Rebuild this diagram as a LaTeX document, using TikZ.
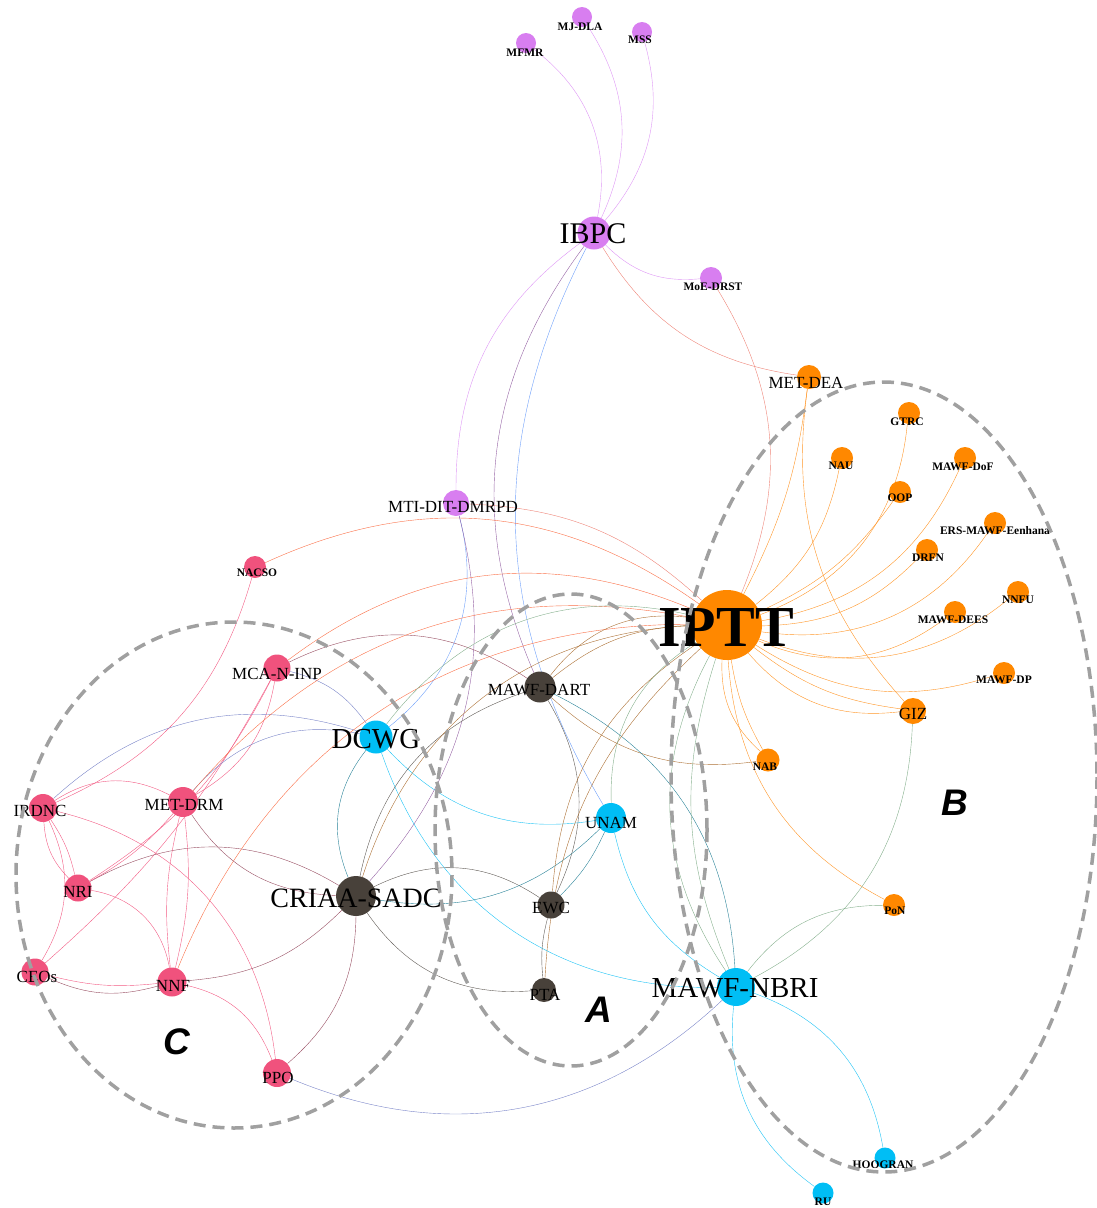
\documentclass[tikz,border=0pt]{standalone}
\usepackage{fontspec}
\setmainfont{Liberation Serif}
\setsansfont{Liberation Sans}
\usetikzlibrary{backgrounds}
\definecolor{cPink}{RGB}{240,82,125}
\definecolor{cOrange}{RGB}{255,136,0}
\definecolor{cViolet}{RGB}{216,126,240}
\definecolor{cCyan}{RGB}{0,190,245}
\definecolor{cDark}{RGB}{72,65,58}
\definecolor{eViolet}{RGB}{222,150,245}
\definecolor{ePink}{RGB}{242,92,132}
\definecolor{eOrange}{RGB}{255,150,40}
\definecolor{eSalmon}{RGB}{238,132,120}
\definecolor{eRedOr}{RGB}{250,112,72}
\definecolor{eMauve}{RGB}{152,78,98}
\definecolor{eBlueV}{RGB}{122,132,200}
\definecolor{eBlue}{RGB}{110,160,250}
\definecolor{ePurple}{RGB}{150,100,165}
\definecolor{eTeal}{RGB}{40,130,152}
\definecolor{eBrown}{RGB}{172,112,52}
\definecolor{eGreen}{RGB}{132,175,140}
\definecolor{eGray}{RGB}{95,90,85}
\definecolor{eCyan}{RGB}{30,195,245}
\definecolor{grpgray}{RGB}{160,160,160}
\newcommand{\fsz}[1]{\fontsize{#1}{#1}\selectfont}
\tikzset{
  nd/.style={circle, inner sep=0pt, minimum size=#1},
  bigl/.style={inner sep=0pt, font=\fsz{29}},
  medl/.style={inner sep=0pt, font=\fsz{17}},
  smll/.style={inner sep=0pt, font=\bfseries\fsz{11.5}},
  ed/.style={line width=1.35pt},
  grp/.style={draw=grpgray, line width=3.5pt, dash pattern=on 12pt off 7pt},
  grpletter/.style={inner sep=0pt, font=\sffamily\bfseries\itshape\fsz{37}}
}
\begin{document}
\begin{tikzpicture}[x=1pt,y=-1pt]
\useasboundingbox (0,0) rectangle (1097,1208);
% ---------- nodes ----------
% violet
\node[nd=20, fill=cViolet] (mfmr) at (526,43) {};
\node[nd=20, fill=cViolet] (mjdla) at (582,17) {};
\node[nd=20, fill=cViolet] (mss) at (642,32) {};
\node[nd=33, fill=cViolet] (ibpc) at (594,233) {};
\node[nd=22, fill=cViolet] (moe) at (711,278) {};
\node[nd=26, fill=cViolet] (mti) at (456,503) {};
% orange
\node[nd=70, fill=cOrange] (iptt) at (727,625) {};
\node[nd=24, fill=cOrange] (metdea) at (809,377) {};
\node[nd=22, fill=cOrange] (gtrc) at (909,413) {};
\node[nd=22, fill=cOrange] (nau) at (842,458) {};
\node[nd=22, fill=cOrange] (dof) at (965,458) {};
\node[nd=22, fill=cOrange] (oop) at (900,492) {};
\node[nd=22, fill=cOrange] (ers) at (995,523) {};
\node[nd=22, fill=cOrange] (drfn) at (927,550) {};
\node[nd=22, fill=cOrange] (nnfu) at (1018,592) {};
\node[nd=22, fill=cOrange] (dees) at (955,612) {};
\node[nd=22, fill=cOrange] (dp) at (1004,673) {};
\node[nd=26, fill=cOrange] (giz) at (913,711) {};
\node[nd=23, fill=cOrange] (nab) at (768,760) {};
\node[nd=22, fill=cOrange] (pon) at (894,905) {};
% cyan
\node[nd=33, fill=cCyan] (dcwg) at (376,737) {};
\node[nd=30, fill=cCyan] (unam) at (611,818) {};
\node[nd=38, fill=cCyan] (nbri) at (736,987) {};
\node[nd=21, fill=cCyan] (hoog) at (885,1158) {};
\node[nd=21, fill=cCyan] (ru) at (823,1193) {};
% dark
\node[nd=40, fill=cDark] (criaa) at (356,896) {};
\node[nd=31, fill=cDark] (dart) at (540,687) {};
\node[nd=27, fill=cDark] (ewc) at (551,905) {};
\node[nd=24, fill=cDark] (pta) at (544,990) {};
% pink
\node[nd=22, fill=cPink] (nacso) at (255,567) {};
\node[nd=27, fill=cPink] (mca) at (277,668) {};
\node[nd=30, fill=cPink] (metdrm) at (183,802) {};
\node[nd=28, fill=cPink] (irdnc) at (43,808) {};
\node[nd=27, fill=cPink] (nri) at (78,888) {};
\node[nd=27, fill=cPink] (ceos) at (35,972) {};
\node[nd=29, fill=cPink] (nnf) at (172,982) {};
\node[nd=28, fill=cPink] (ppo) at (277,1073) {};

% ---------- edges ----------
\begin{scope}[on background layer, ed]
% IBPC cluster
\draw[eViolet] (mfmr) to[bend left=32] (ibpc);
\draw[eViolet] (mjdla) to[bend left=29] (ibpc);
\draw[eViolet] (mss) to[bend left=28] (ibpc);
\draw[eViolet] (ibpc) to[bend right=25] (moe);
\draw[eViolet] (ibpc) to[bend right=27] (mti);
\draw[ePurple] (ibpc) to[bend right=30] (dart);
\draw[eBlue] (ibpc) to[bend right=29] (unam);
\draw[eSalmon] (ibpc) to[bend right=25] (metdea);
\draw[eSalmon] (moe) to[bend left=27] (iptt);
% MTI
\draw[eBlue] (mti) to[bend left=33] (dcwg);
\draw[ePurple] (mti) to[bend left=28] (criaa);
\draw[eSalmon] (mti) to[bend left=20] (iptt);
% pink cluster
\draw[eRedOr] (nacso) to[bend left=30] (iptt);
\draw[ePink] (nacso) to[bend left=25] (irdnc);
\draw[eRedOr] (mca) to[bend left=30] (iptt);
\draw[eMauve] (mca) to[bend left=30] (dart);
\draw[eBlueV] (mca) to[bend left=20] (dcwg);
\draw[ePink] (mca) to[bend left=25] (metdrm);
\draw[ePink] (mca) to[bend left=15] (nri);
\draw[ePink] (mca) to[bend left=10] (ceos);
\draw[eBlueV] (irdnc) to[bend left=30] (dcwg);
\draw[eBlueV] (metdrm) to[bend left=30] (dcwg);
\draw[ePink] (irdnc) to[bend left=30] (metdrm);
\draw[ePink] (irdnc) to[bend right=20] (nri);
\draw[ePink] (irdnc) to[bend left=10] (nri);
\draw[ePink] (irdnc) to[bend left=28] (ceos);
\draw[ePink] (irdnc) to[bend left=35] (ppo);
\draw[ePink] (nri) to[bend left=35] (nnf);
\draw[eMauve] (nri) to[bend left=30] (criaa);
\draw[ePink] (nri) to[bend right=10] (metdrm);
\draw[ePink] (ceos) to[bend right=10] (nnf);
\draw[eMauve] (ceos) to[bend right=20] (nnf);
\draw[eMauve] (nnf) to[bend right=20] (criaa);
\draw[eRedOr] (nnf) to[bend left=34] (iptt);
\draw[ePink] (nnf) to[bend left=28] (ppo);
\draw[ePink] (metdrm) to[bend left=10] (nnf);
\draw[ePink] (metdrm) to[bend right=10] (nnf);
\draw[eMauve] (metdrm) to[bend right=27] (criaa);
\draw[eRedOr] (metdrm) to[bend left=30] (iptt);
\draw[eMauve] (ppo) to[bend right=24] (criaa);
\draw[eBlueV] (ppo) to[bend right=33] (nbri);
% DCWG
\draw[eGreen] (dcwg) to[bend left=33] (iptt);
\draw[eCyan] (dcwg) to[bend right=28] (unam);
\draw[eCyan] (dcwg) to[bend right=36] (nbri);
\draw[eTeal] (dcwg) to[bend right=30] (criaa);
% CRIAA
\draw[eGray] (criaa) to[bend left=30] (dart);
\draw[eBrown] (criaa) to[bend left=35] (iptt);
\draw[eGray] (criaa) to[bend left=30] (ewc);
\draw[eTeal] (criaa) to[bend right=27] (unam);
\draw[eGray] (criaa) to[bend right=30] (pta);
% MAWF-DART
\draw[eBrown] (dart) to[bend left=30] (iptt);
\draw[eBrown] (dart) to[bend left=18] (iptt);
\draw[eBrown] (dart) to[bend right=25] (nab);
\draw[eGray] (dart) to[bend left=28] (ewc);
\draw[eTeal] (dart) to[bend left=30] (nbri);
% IPTT
\draw[eBrown] (iptt) to[bend right=26] (ewc);
\draw[eBrown] (iptt) to[bend right=22] (pta);
\draw[eGreen] (iptt) to[bend right=30] (unam);
\draw[eGreen] (iptt) to[bend right=31] (nbri);
\draw[eGreen] (iptt) to[bend right=20] (nbri);
\draw[eOrange] (iptt) to[bend right=10] (nab);
\draw[eOrange] (iptt) to[bend right=25] (nab);
\draw[eOrange] (iptt) to[bend right=29] (pon);
\draw[eOrange] (iptt) to[bend right=28] (giz);
\draw[eOrange] (iptt) to[bend right=15] (giz);
\draw[eOrange] (iptt) to[bend right=25] (dp);
\draw[eOrange] (iptt) to[bend right=30] (dees);
\draw[eOrange] (iptt) to[bend right=30] (nnfu);
\draw[eOrange] (iptt) to[bend right=22] (drfn);
\draw[eOrange] (iptt) to[bend right=32] (ers);
\draw[eOrange] (iptt) to[bend right=28] (dof);
\draw[eOrange] (iptt) to[bend right=15] (oop);
\draw[eOrange] (iptt) to[bend right=32] (gtrc);
\draw[eOrange] (iptt) to[bend right=20] (nau);
\draw[eOrange] (iptt) to[bend right=10] (metdea);
\draw[eOrange] (metdea) to[bend right=25] (giz);
% lower right
\draw[eGreen] (giz) to[bend left=30] (nbri);
\draw[eGreen] (pon) to[bend right=26] (nbri);
\draw[eCyan] (unam) to[bend right=23] (nbri);
\draw[eTeal] (unam) to[bend left=10] (ewc);
\draw[eGray] (ewc) to[bend right=10] (pta);
\draw[eCyan] (nbri) to[bend left=30] (hoog);
\draw[eCyan] (nbri) to[bend right=30] (ru);
\end{scope}

% ---------- labels ----------
\node[smll] (t-mfmr) at (525,53) {MFMR};
\node[smll] (t-mjdla) at (580,27) {MJ-DLA};
\node[smll] (t-mss) at (640,40) {MSS};
\node[inner sep=0pt, font=\fsz{30}] (t-ibpc) at (593,234) {IBPC};
\node[smll] (t-moe) at (713,287) {MoE-DRST};
\node[medl] (t-mti) at (453,507) {MTI-DIT-DMRPD};
\node[inner sep=0pt, font=\bfseries\fsz{58}] (t-iptt) at (726,628) {IPTT};
\node[medl] (t-metdea) at (806,383) {MET-DEA};
\node[smll] (t-gtrc) at (907,422) {GTRC};
\node[smll] (t-nau) at (841,466) {NAU};
\node[smll] (t-dof) at (963,467) {MAWF-DoF};
\node[smll] (t-oop) at (900,498) {OOP};
\node[smll] (t-ers) at (995,531) {ERS-MAWF-Eenhana};
\node[smll] (t-drfn) at (928,558) {DRFN};
\node[smll] (t-nnfu) at (1018,600) {NNFU};
\node[smll] (t-dees) at (953,620) {MAWF-DEES};
\node[smll] (t-dp) at (1004,680) {MAWF-DP};
\node[medl] (t-giz) at (913,714) {GIZ};
\node[smll] (t-nab) at (765,767) {NAB};
\node[smll] (t-pon) at (895,911) {PoN};
\node[bigl] (t-dcwg) at (376,739) {DCWG};
\node[medl] (t-unam) at (611,823) {UNAM};
\node[bigl] (t-nbri) at (735,988) {MAWF-NBRI};
\node[smll] (t-hoog) at (883,1165) {HOOGRAN};
\node[smll] (t-ru) at (823,1202) {RU};
\node[inner sep=0pt, font=\fsz{28}] (t-criaa) at (356,898) {CRIAA-SADC};
\node[medl] (t-dart) at (539,690) {MAWF-DART};
\node[medl] (t-ewc) at (551,908) {EWC};
\node[medl] (t-pta) at (545,995) {PTA};
\node[smll] (t-nacso) at (257,573) {NACSO};
\node[medl] (t-mca) at (277,674) {MCA-N-INP};
\node[medl] (t-metdrm) at (184,805) {MET-DRM};
\node[medl] (t-irdnc) at (40,811) {IRDNC};
\node[medl] (t-nri) at (78,892) {NRI};
\node[medl] (t-ceos) at (37,977) {CEOs};
\node[medl] (t-nnf) at (173,986) {NNF};
\node[medl] (t-ppo) at (278,1078) {PPO};

% ---------- groups ----------
\draw[grp] (234,875) ellipse [x radius=218, y radius=253];
\draw[grp] (571,830) ellipse [x radius=136, y radius=236];
\draw[grp] (884,777) ellipse [x radius=213, y radius=395];
\node[grpletter] (la) at (599,1010) {A};
\node[grpletter] (lb) at (955,803) {B};
\node[grpletter] (lc) at (177,1042) {C};
\end{tikzpicture}
\end{document}
